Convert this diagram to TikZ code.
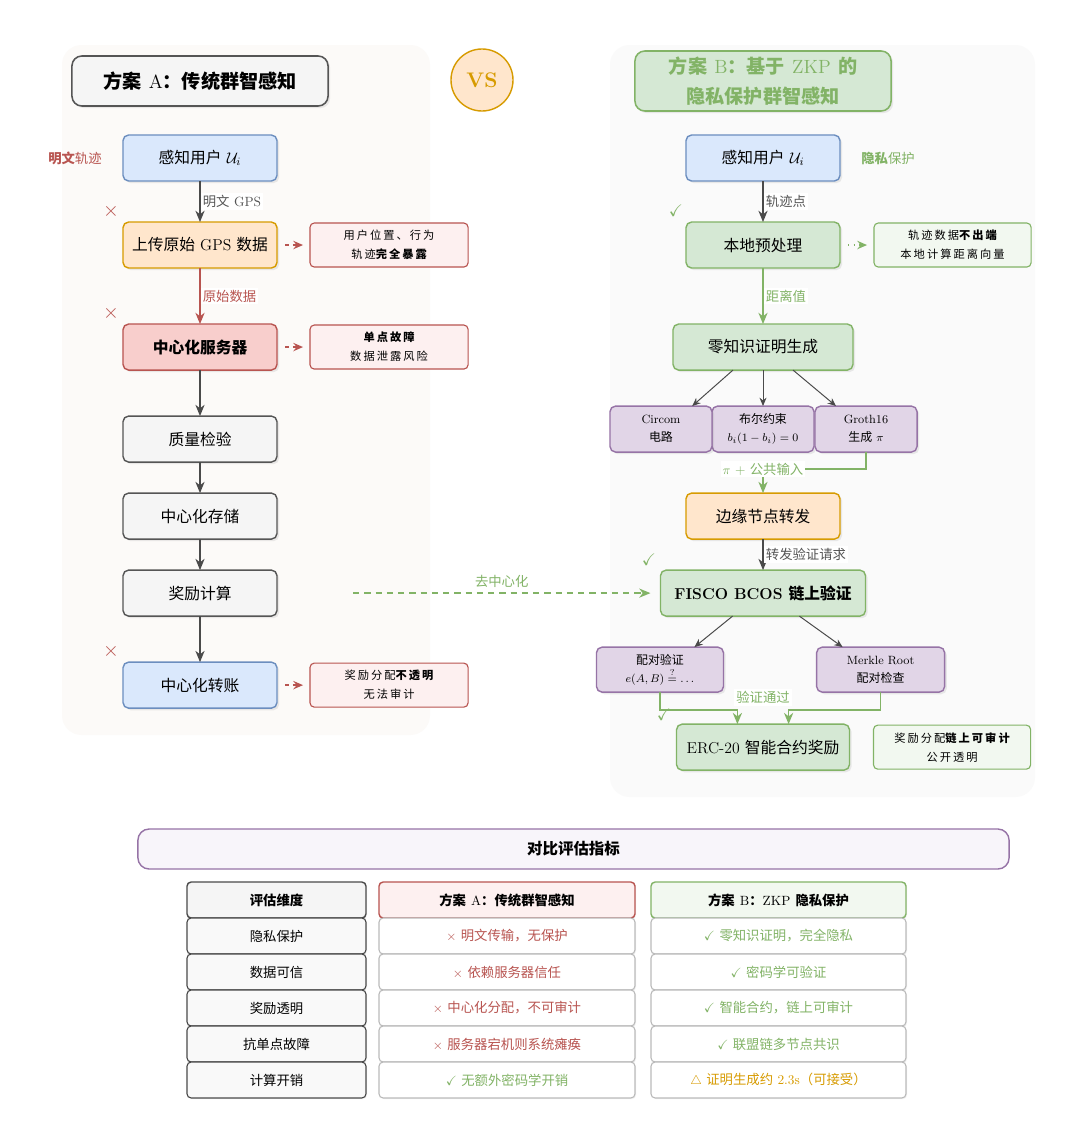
\documentclass[tikz,border=0pt]{standalone}
\usepackage{amssymb}
\usepackage{fontspec}
\usepackage{tikz}
\usetikzlibrary{shapes,arrows.meta,positioning,shadows,backgrounds}
\newfontfamily\cjk{Noto Sans CJK SC}
\newfontfamily\cjkwide[LetterSpace=18]{Noto Sans CJK SC}
\newcommand{\zh}[1]{{\cjk #1}}
\newcommand{\zhw}[1]{{\cjkwide #1}}
\definecolor{bluefill}{HTML}{DAE8FC}
\definecolor{blueline}{HTML}{6C8EBF}
\definecolor{orangefill}{HTML}{FFE6CC}
\definecolor{orangeline}{HTML}{D79B00}
\definecolor{redfill}{HTML}{F8CECC}
\definecolor{redline}{HTML}{B85450}
\definecolor{grayfill}{HTML}{F5F5F5}
\definecolor{grayline}{HTML}{555555}
\definecolor{greenfill}{HTML}{D5E8D4}
\definecolor{greenline}{HTML}{82B366}
\definecolor{purplefill}{HTML}{E1D5E7}
\definecolor{purpleline}{HTML}{9673A6}
\definecolor{rednote}{HTML}{FDF0F0}
\definecolor{greennote}{HTML}{F2F8F0}
\definecolor{panelA}{HTML}{FCFAF8}
\definecolor{panelB}{HTML}{FAFAFA}
\definecolor{arrgray}{HTML}{4A4A4A}
\definecolor{txtgray}{HTML}{555555}
\definecolor{cellline}{HTML}{BBBBBB}
\definecolor{metricfill}{HTML}{F8F5FA}
\tikzstyle{base} = [rectangle, rounded corners=4pt, line width=1pt, outer sep=0pt, align=center, text=black, drop shadow={shadow xshift=1.5pt, shadow yshift=-1.5pt, opacity=0.15}]
\tikzstyle{stepbox} = [base, minimum width=3.85cm, minimum height=1.15cm, font=\fontsize{11.2}{13}\selectfont]
\tikzstyle{userbox} = [stepbox, draw=blueline, fill=bluefill]
\tikzstyle{uploadbox} = [stepbox, draw=orangeline, fill=orangefill]
\tikzstyle{serverbox} = [stepbox, draw=redline, fill=redfill]
\tikzstyle{plainbox} = [stepbox, draw=grayline, fill=grayfill]
\tikzstyle{zkpbox} = [stepbox, draw=greenline, fill=greenfill]
\tikzstyle{subbox} = [base, draw=purpleline, fill=purplefill, minimum width=2.55cm, minimum height=1.15cm, font=\fontsize{8.5}{13}\selectfont]
\tikzstyle{titlebox} = [base, rounded corners=7pt, minimum width=6.4cm, line width=1.1pt, font=\fontsize{13.6}{21}\selectfont\bfseries]
\tikzstyle{vsnode} = [circle, draw=orangeline, fill=orangefill, line width=1pt, minimum size=1.55cm, inner sep=0pt, text=orangeline, font=\fontsize{15}{15}\selectfont\bfseries]
\tikzstyle{badnote} = [rectangle, rounded corners=3pt, line width=0.8pt, outer sep=0pt, draw=redline, fill=rednote, minimum width=3.95cm, minimum height=1.1cm, align=center, font=\fontsize{8}{13.5}\selectfont]
\tikzstyle{goodnote} = [badnote, draw=greenline, fill=greennote, minimum width=3.925cm]
\tikzstyle{tedge} = [draw=arrgray, line width=1.1pt, -{Stealth[length=8pt, width=6.5pt, inset=2.5pt]}]
\tikzstyle{redge} = [tedge, draw=redline]
\tikzstyle{gedge} = [tedge, draw=greenline]
\tikzstyle{thinedge} = [draw=arrgray, line width=0.7pt, -{Stealth[length=6pt, width=5pt, inset=2pt]}]
\tikzstyle{noteedge} = [line width=1pt, shorten <=0.2cm, shorten >=0.175cm, -{Stealth[length=7pt, width=6pt, inset=2.5pt]}]
\tikzstyle{elabel} = [fill=white, inner sep=1.5pt, text=txtgray, font=\fontsize{9.5}{11}\selectfont]
\tikzstyle{sidelabel} = [inner sep=0pt, font=\fontsize{9.5}{11}\selectfont]
\tikzstyle{crossmark} = [text=redline, inner sep=0pt, font=\fontsize{15}{15}\selectfont]
\tikzstyle{tickmark} = [text=greenline, inner sep=0pt, font=\fontsize{12}{12}\selectfont]
\tikzstyle{cell} = [rectangle, rounded corners=3pt, line width=0.8pt, outer sep=0pt, minimum height=0.9cm, align=center, font=\fontsize{9.5}{11}\selectfont, drop shadow={shadow xshift=0.8pt, shadow yshift=-0.8pt, opacity=0.1}]
\tikzstyle{dimcell} = [cell, draw=grayline, fill=grayfill!60, minimum width=4.475cm]
\tikzstyle{acell} = [cell, draw=cellline, fill=white, minimum width=6.4cm]
\tikzstyle{bcell} = [cell, draw=cellline, fill=white, minimum width=6.375cm]

\begin{document}
\begin{tikzpicture}[x=0.025cm, y=-0.025cm]
\useasboundingbox (0,0) rectangle (1080,1144);
\fill[white] (0,0) rectangle (1080,1144);

% panels ==============================
\fill[panelA, rounded corners=14pt] (62,45) rectangle (430,735);
\fill[panelB, rounded corners=14pt] (610,45) rectangle (1035,797);

\node[titlebox, draw=grayline, fill=grayfill, minimum height=1.25cm] (titleA) at (200,81) {\zh{方案} {\mdseries A}\zh{：传统群智感知}};
\node[titlebox, draw=greenline, fill=greenfill, minimum height=1.5cm, text=greenline] (titleB) at (763,81) {\zh{方案} {\mdseries B}\zh{：基于} {\mdseries ZKP} \zh{的}\\\zh{隐私保护群智感知}};
\node[vsnode] (vs) at (482,80) {VS};

% scheme A: traditional =============================
\node[userbox] (userA) at (200,158) {\zh{感知用户} $\mathcal{U}_i$};
\node[uploadbox, below=1.025cm of userA] (upload) {\zh{上传原始} GPS \zh{数据}};
\node[serverbox, below=1.4cm of upload] (server) {\bfseries\zh{中心化服务器}};
\node[plainbox, below=1.15cm of server] (check) {\zh{质量检验}};
\node[plainbox, below=0.775cm of check] (store) {\zh{中心化存储}};
\node[plainbox, below=0.775cm of store] (reward) {\zh{奖励计算}};
\node[userbox, below=1.15cm of reward] (transfer) {\zh{中心化转账}};

\node[badnote, right=0.825cm of upload] (leak) {\zhw{用户位置、行为}\\\zhw{轨迹{\bfseries 完全暴露}}};
\node[badnote, right=0.825cm of server] (spof) {\zhw{\bfseries 单点故障}\\\zhw{数据泄露风险}};
\node[badnote, right=0.825cm of transfer] (opaque) {\zhw{奖励分配{\bfseries 不透明}}\\\zhw{无法审计}};

\node[sidelabel, text=redline, left=0.525cm of userA] (plainA) {\zh{\bfseries 明文}\zh{轨迹}};
\node[crossmark] (x1) at (111,211) {$\times$};
\node[crossmark] (x2) at (111,313) {$\times$};
\node[crossmark] (x3) at (111,651) {$\times$};

% edges
\draw[tedge] (userA) -- node[elabel, right] {\zh{明文} GPS} (upload);
\draw[redge] (upload) -- node[elabel, right, text=redline] {\zh{原始数据}} (server);
\draw[tedge] (server) -- (check);
\draw[tedge] (check) -- (store);
\draw[tedge] (store) -- (reward);
\draw[tedge] (reward) -- (transfer);
\draw[noteedge, draw=redline, dash pattern=on 3pt off 2.5pt] (upload.east) -- (leak.west);
\draw[noteedge, draw=redline, dash pattern=on 3pt off 2.5pt] (server.east) -- (spof.west);
\draw[noteedge, draw=redline, dash pattern=on 3pt off 2.5pt] (transfer.east) -- (opaque.west);

% scheme B: ZKP =============================
\node[userbox] (userB) at (763,158) {\zh{感知用户} $\mathcal{U}_i$};
\node[zkpbox, below=1.025cm of userB] (pre) {\zh{本地预处理}};
\node[zkpbox, below=1.4cm of pre, minimum width=4.5cm] (zk) {\zh{零知识证明生成}};
\node[subbox, below=0.9cm of zk] (bool) {\zh{布尔约束}\\$b_i(1-b_i)=0$};
\node[subbox, left=0cm of bool] (circom) {Circom\\\zh{电路}};
\node[subbox, right=0.025cm of bool] (groth) {Groth16\\\zh{生成} $\pi$};
\node[uploadbox, below=1.025cm of bool] (edge) {\zh{边缘节点转发}};
\node[zkpbox, below=0.775cm of edge, minimum width=5.125cm] (fisco) {\bfseries FISCO BCOS \zh{链上验证}};
\node[subbox, below=0.775cm of fisco, xshift=-2.575cm, minimum width=3.175cm, minimum height=1.125cm, font=\fontsize{8.5}{12}\selectfont] (pairing) {\zh{配对验证}\\[1pt]$e(A,B)\stackrel{?}{=}\ldots$};
\node[subbox, below=0.775cm of fisco, xshift=2.94cm, minimum width=3.2cm, minimum height=1.125cm] (merkle) {Merkle Root\\\zh{配对检查}};
\node[zkpbox, below=2.7cm of fisco, minimum width=4.325cm] (erc) {ERC-20 \zh{智能合约奖励}};

\node[goodnote, right=0.85cm of pre] (local) {\zhw{轨迹数据{\bfseries 不出端}}\\\zhw{本地计算距离向量}};
\node[goodnote, right=0.6cm of erc] (audit) {\zhw{奖励分配{\bfseries 链上可审计}}\\\zhw{公开透明}};

\node[sidelabel, text=greenline, right=0.525cm of userB] (privB) {\zh{\bfseries 隐私}\zh{保护}};
\node[tickmark] (t1) at (676,211) {$\checkmark$};
\node[tickmark] (t2) at (649,560) {$\checkmark$};
\node[tickmark] (t3) at (664,715) {$\checkmark$};

% edges
\draw[tedge] (userB) -- node[elabel, right] {\zh{轨迹点}} (pre);
\draw[gedge] (pre) -- node[elabel, right, text=greenline] {\zh{距离值}} (zk);
\draw[thinedge] ([xshift=-0.75cm]zk.south) -- ([xshift=0.78cm]circom.north);
\draw[thinedge] (zk.south) -- (bool.north);
\draw[thinedge] ([xshift=0.75cm]zk.south) -- ([xshift=-0.75cm]groth.north);
\draw[gedge] (groth.south) |- ([yshift=0.6cm]edge.north) node[elabel, text=greenline] (pilabel) {$\pi$ + \zh{公共输入}} -- (edge.north);
\draw[tedge] (edge) -- node[elabel, right] {\zh{转发验证请求}} (fisco);
\draw[thinedge] ([xshift=-0.76cm]fisco.south) -- ([xshift=0.86cm]pairing.north);
\draw[thinedge] ([xshift=0.91cm]fisco.south) -- ([xshift=-0.95cm]merkle.north);
\draw[gedge] (pairing.south) |- ([xshift=-0.64cm, yshift=0.35cm]erc.north) -- ([xshift=-0.64cm]erc.north);
\draw[gedge] (merkle.south) |- ([xshift=0.64cm, yshift=0.35cm]erc.north) -- ([xshift=0.64cm]erc.north);
\node[elabel, text=greenline, above=0.45cm of erc.north] (passed) {\zh{验证通过}};
\draw[noteedge, draw=greenline, dash pattern=on 1pt off 3pt] (pre.east) -- (local.west);
\draw[gedge, line width=1pt, dash pattern=on 4.5pt off 3.5pt, shorten <=1.9cm, shorten >=0.25cm] (reward.east) -- node[pos=0.586, above, text=greenline, font=\fontsize{9.5}{11}\selectfont] {\zh{去中心化}} (fisco.west);

% comparison table =============================
\node[rectangle, rounded corners=8pt, draw=purpleline, fill=metricfill, line width=1pt, minimum width=21.775cm, minimum height=1cm, font=\fontsize{11}{13}\selectfont] (metrics) at (573.5,849) {\bfseries\zh{对比评估指标}};
\node[dimcell, fill=grayfill, draw=arrgray, line width=1pt] (hdim) at (276.5,900) {\bfseries\zh{评估维度}};
\node[acell, fill=rednote, draw=redline, line width=1pt] (hA) at (507,900) {\bfseries\zh{方案} {\mdseries A}\zh{：传统群智感知}};
\node[bcell, fill=greennote, draw=greenline, line width=1pt] (hB) at (778.5,900) {\bfseries\zh{方案} {\mdseries B}\zh{：}{\mdseries ZKP} \zh{隐私保护}};

\foreach \dimtxt/\atxt/\acol/\btxt/\bcol [count=\i] in {
  {\zh{隐私保护}}/{$\times$ \zh{明文传输，无保护}}/redline/{$\checkmark$ \zh{零知识证明，完全隐私}}/greenline,
  {\zh{数据可信}}/{$\times$ \zh{依赖服务器信任}}/redline/{$\checkmark$ \zh{密码学可验证}}/greenline,
  {\zh{奖励透明}}/{$\times$ \zh{中心化分配，不可审计}}/redline/{$\checkmark$ \zh{智能合约，链上可审计}}/greenline,
  {\zh{抗单点故障}}/{$\times$ \zh{服务器宕机则系统瘫痪}}/redline/{$\checkmark$ \zh{联盟链多节点共识}}/greenline,
  {\zh{计算开销}}/{$\checkmark$ \zh{无额外密码学开销}}/greenline/{$\triangle$ \zh{证明生成约} 2.3s\zh{（可接受）}}/orangeline}
{
  \node[dimcell, draw=arrgray] (dim\i) at (276.5, 900+36*\i) {\dimtxt};
  \node[acell, text=\acol] (a\i) at (507, 900+36*\i) {\atxt};
  \node[bcell, text=\bcol] (b\i) at (778.5, 900+36*\i) {\btxt};
}

\end{tikzpicture}
\end{document}
